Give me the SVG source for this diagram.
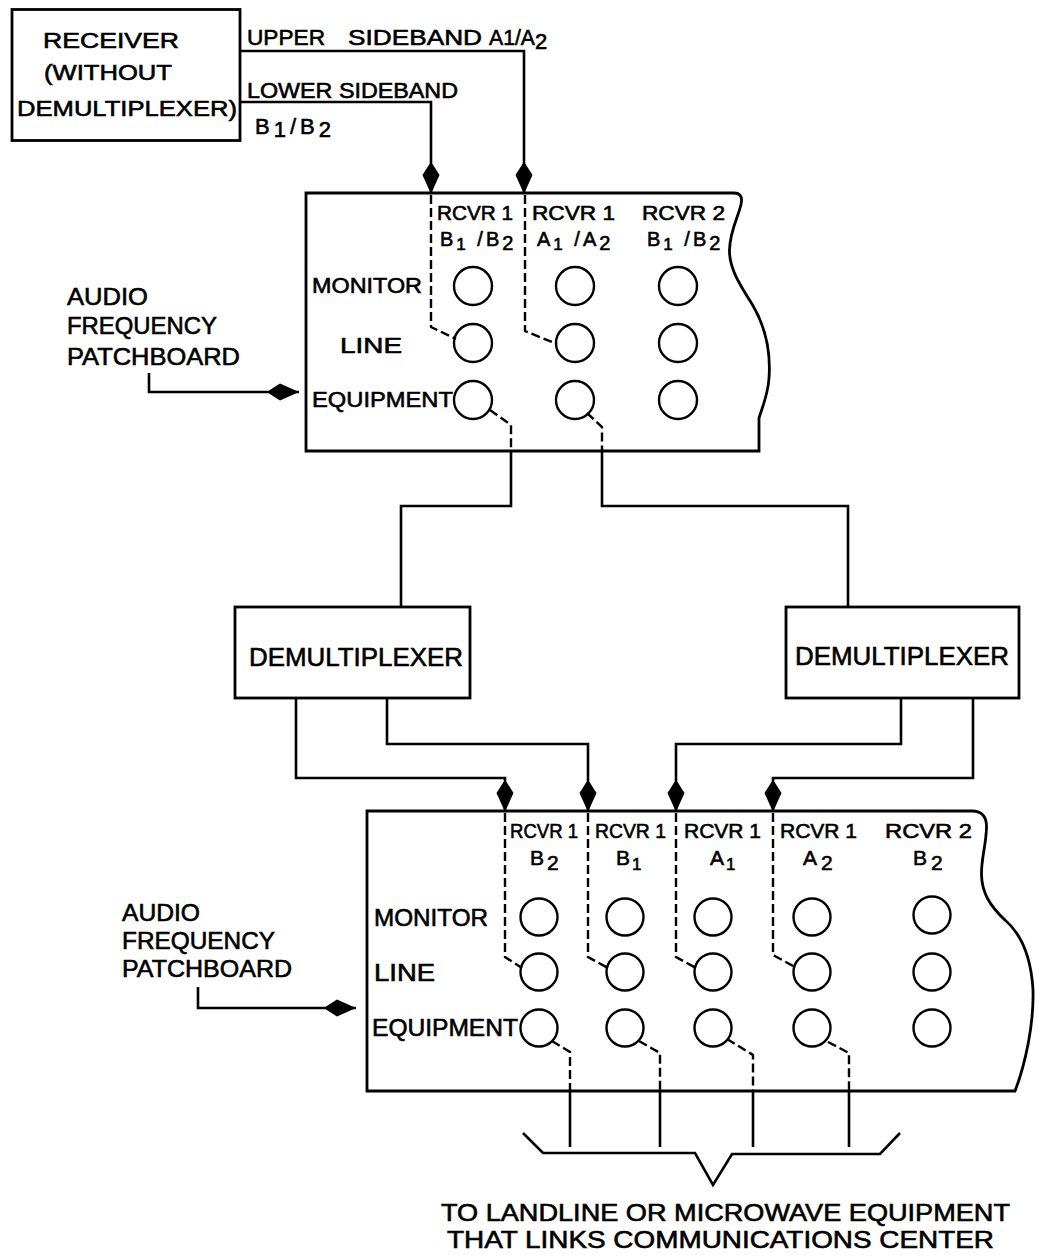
<svg xmlns="http://www.w3.org/2000/svg" width="1037" height="1258" viewBox="0 0 1037 1258">
<style>
  .ln{fill:none;stroke:#000;stroke-width:2.6;stroke-linejoin:miter}
  .dash{fill:none;stroke:#000;stroke-width:2.4;stroke-dasharray:9 4}
  .box{fill:#fff;stroke:#000;stroke-width:2.8}
  .jack{fill:none;stroke:#000;stroke-width:2.4}
  text{font-family:"Liberation Sans",Arial,sans-serif;fill:#000;stroke:#000;stroke-width:0.6px}
  .t22{font-size:22px}
  .t20{font-size:20px}
  .t21{font-size:21px}
  .t23{font-size:23px}
  .t24{font-size:24px}
  .t25{font-size:25px}
  .arr{marker-end:url(#kite)}
</style>
<defs>
  <marker id="kite" markerUnits="userSpaceOnUse" markerWidth="36" markerHeight="20" viewBox="-33 -10 36 20" refX="0" refY="0" orient="auto" overflow="visible">
    <path d="M0,0 L-19,-8.5 L-30,-1.5 L-30,1.5 L-19,8.5 Z" fill="#000"/>
  </marker>
</defs>
<rect width="1037" height="1258" fill="#fff"/>

<g id="receiver">
  <rect class="box" x="12" y="9.5" width="228" height="131"/>
  <text class="t22" x="43" y="48" textLength="136" lengthAdjust="spacingAndGlyphs">RECEIVER</text>
  <text class="t22" x="44" y="80" textLength="128" lengthAdjust="spacingAndGlyphs">(WITHOUT</text>
  <text class="t22" x="17" y="116" textLength="220" lengthAdjust="spacingAndGlyphs">DEMULTIPLEXER)</text>
</g>

<g id="patchboard1">
  <path class="box" d="M306,193 H734 Q742,193 741.5,201 C741,212 730,228 729.5,250 C729,268 740,285 752,304 C764,324 771,350 769,378 C768,395 762,408 759,418 V451 H306 Z"/>
  <text class="t20" x="437" y="220" textLength="76" lengthAdjust="spacingAndGlyphs">RCVR 1</text>
  <text class="t20" x="532" y="220" textLength="83" lengthAdjust="spacingAndGlyphs">RCVR 1</text>
  <text class="t20" x="642" y="220" textLength="83" lengthAdjust="spacingAndGlyphs">RCVR 2</text>
  <text class="t20" x="440" y="246" letter-spacing="3">B<tspan dy="4" font-size="17">1</tspan><tspan dy="-4"> /B</tspan><tspan dy="4">2</tspan></text>
  <text class="t20" x="537" y="246" letter-spacing="3">A<tspan dy="4" font-size="17">1</tspan><tspan dy="-4"> /A</tspan><tspan dy="4">2</tspan></text>
  <text class="t20" x="647" y="246" letter-spacing="3">B<tspan dy="4" font-size="17">1</tspan><tspan dy="-4"> /B</tspan><tspan dy="4">2</tspan></text>
  <text class="t22" x="312" y="293" textLength="110" lengthAdjust="spacingAndGlyphs">MONITOR</text>
  <text class="t22" x="340" y="353" textLength="62" lengthAdjust="spacingAndGlyphs">LINE</text>
  <text class="t22" x="312" y="407" textLength="141" lengthAdjust="spacingAndGlyphs">EQUIPMENT</text>
  <circle class="jack" cx="473" cy="286" r="19"/>
  <circle class="jack" cx="575" cy="286" r="19"/>
  <circle class="jack" cx="678" cy="286" r="19"/>
  <circle class="jack" cx="473" cy="343" r="19"/>
  <circle class="jack" cx="575" cy="343" r="19"/>
  <circle class="jack" cx="678" cy="343" r="19"/>
  <circle class="jack" cx="473" cy="400" r="19"/>
  <circle class="jack" cx="575" cy="400" r="19"/>
  <circle class="jack" cx="678" cy="400" r="19"/>
</g>

<g id="label-patchboard1">
  <text class="t24" x="67" y="305" textLength="81" lengthAdjust="spacingAndGlyphs">AUDIO</text>
  <text class="t24" x="67" y="334" textLength="150" lengthAdjust="spacingAndGlyphs">FREQUENCY</text>
  <text class="t24" x="67" y="365" textLength="173" lengthAdjust="spacingAndGlyphs">PATCHBOARD</text>
</g>

<g id="demux-left">
  <rect class="box" x="235" y="607" width="235" height="91"/>
  <text class="t25" x="249" y="666" textLength="214" lengthAdjust="spacingAndGlyphs">DEMULTIPLEXER</text>
</g>

<g id="demux-right">
  <rect class="box" x="786" y="607" width="233" height="91"/>
  <text class="t25" x="795" y="665" textLength="214" lengthAdjust="spacingAndGlyphs">DEMULTIPLEXER</text>
</g>

<g id="patchboard2">
  <path class="box" d="M367,811 H972 Q987,811 986.5,828 C986,845 981,860 981.5,875 C982,893 990,906 1005,920 C1020,933 1031,955 1033,990 C1034,1025 1025,1065 1015,1091 H367 Z"/>
  <text class="t21" x="510" y="838" textLength="68" lengthAdjust="spacingAndGlyphs">RCVR 1</text>
  <text class="t21" x="595" y="838" textLength="71" lengthAdjust="spacingAndGlyphs">RCVR 1</text>
  <text class="t21" x="684" y="838" textLength="77" lengthAdjust="spacingAndGlyphs">RCVR 1</text>
  <text class="t21" x="780" y="838" textLength="77" lengthAdjust="spacingAndGlyphs">RCVR 1</text>
  <text class="t21" x="885" y="838" textLength="87" lengthAdjust="spacingAndGlyphs">RCVR 2</text>
  <text class="t21" x="530" y="865" letter-spacing="3">B<tspan dy="5">2</tspan></text>
  <text class="t21" x="616" y="865" letter-spacing="2">B<tspan dy="5" font-size="17">1</tspan></text>
  <text class="t21" x="710" y="865" letter-spacing="2">A<tspan dy="5" font-size="17">1</tspan></text>
  <text class="t21" x="803" y="865" letter-spacing="4">A<tspan dy="5">2</tspan></text>
  <text class="t21" x="913" y="865" letter-spacing="4">B<tspan dy="5">2</tspan></text>
  <text class="t24" x="374" y="926" textLength="114" lengthAdjust="spacingAndGlyphs">MONITOR</text>
  <text class="t24" x="374" y="981" textLength="61" lengthAdjust="spacingAndGlyphs">LINE</text>
  <text class="t24" x="372" y="1036" textLength="146" lengthAdjust="spacingAndGlyphs">EQUIPMENT</text>
  <circle class="jack" cx="539" cy="917" r="18.5"/>
  <circle class="jack" cx="625" cy="917" r="18.5"/>
  <circle class="jack" cx="713" cy="917" r="18.5"/>
  <circle class="jack" cx="812" cy="917" r="18.5"/>
  <circle class="jack" cx="932" cy="915" r="18.5"/>
  <circle class="jack" cx="539" cy="972" r="18.5"/>
  <circle class="jack" cx="625" cy="972" r="18.5"/>
  <circle class="jack" cx="713" cy="972" r="18.5"/>
  <circle class="jack" cx="812" cy="972" r="18.5"/>
  <circle class="jack" cx="932" cy="972" r="18.5"/>
  <circle class="jack" cx="539" cy="1028" r="18.5"/>
  <circle class="jack" cx="625" cy="1028" r="18.5"/>
  <circle class="jack" cx="713" cy="1028" r="18.5"/>
  <circle class="jack" cx="812" cy="1028" r="18.5"/>
  <circle class="jack" cx="932" cy="1028" r="18.5"/>
</g>

<g id="label-patchboard2">
  <text class="t24" x="122" y="921" textLength="78" lengthAdjust="spacingAndGlyphs">AUDIO</text>
  <text class="t24" x="122" y="949" textLength="153" lengthAdjust="spacingAndGlyphs">FREQUENCY</text>
  <text class="t24" x="122" y="977" textLength="170" lengthAdjust="spacingAndGlyphs">PATCHBOARD</text>
</g>

<g id="destination">
  <path class="ln" stroke-width="2" d="M523,1133 L543,1153 H695 L713,1185 L732,1154 H880 L900,1133"/>
  <text class="t24" x="441" y="1221" textLength="569" lengthAdjust="spacingAndGlyphs">TO LANDLINE OR MICROWAVE EQUIPMENT</text>
  <text class="t24" x="447" y="1248" textLength="547" lengthAdjust="spacingAndGlyphs">THAT LINKS COMMUNICATIONS CENTER</text>
</g>

<g id="sideband-labels">
  <text class="t22" y="45"><tspan x="247" textLength="78" lengthAdjust="spacingAndGlyphs">UPPER</tspan> <tspan x="348" textLength="134" lengthAdjust="spacingAndGlyphs">SIDEBAND</tspan> <tspan x="489" textLength="46" lengthAdjust="spacingAndGlyphs">A1/A</tspan><tspan dy="4">2</tspan></text>
  <text class="t22" x="247" y="98" textLength="211" lengthAdjust="spacingAndGlyphs">LOWER SIDEBAND</text>
  <text class="t22" x="255" y="134" letter-spacing="4">B<tspan dy="3">1</tspan><tspan dy="-3">/B</tspan><tspan dy="3">2</tspan></text>
</g>

<g id="connectors">
  <path class="ln arr" d="M240,51 H524 V194"/>
  <path class="ln arr" d="M240,102 H431 V194"/>
  <path class="ln arr" d="M149,373 V392 H299"/>
  <path class="ln arr" d="M198,987 V1008 H356"/>
  <path class="dash" d="M431,195 V327 L456,339"/>
  <path class="dash" d="M525,195 V331 L557,344"/>
  <path class="dash" d="M490,410 L511,425 V451"/>
  <path class="dash" d="M587,413 L602,427 V451"/>
  <path class="ln" d="M511,451 V506 H401 V607"/>
  <path class="ln" d="M602,451 V506 H848 V607"/>
  <path class="ln arr" d="M296,698 V778 H505 V812"/>
  <path class="ln arr" d="M387,698 V744 H588 V812"/>
  <path class="ln arr" d="M901,698 V744 H676 V812"/>
  <path class="ln arr" d="M973,698 V778 H773 V812"/>
  <path class="dash" d="M505,813 V957 L522,968"/>
  <path class="dash" d="M588,813 V957 L608,968"/>
  <path class="dash" d="M676,813 V957 L696,968"/>
  <path class="dash" d="M773,813 V955 L795,967"/>
  <path class="dash" d="M552,1041 L570,1052 V1091"/>
  <path class="dash" d="M639,1041 L660,1053 V1091"/>
  <path class="dash" d="M727,1039 L753,1055 V1091"/>
  <path class="dash" d="M828,1042 L849,1053 V1091"/>
  <path class="ln" d="M570,1091 V1147"/>
  <path class="ln" d="M660,1091 V1147"/>
  <path class="ln" d="M753,1091 V1147"/>
  <path class="ln" d="M849,1091 V1147"/>
</g>
</svg>
